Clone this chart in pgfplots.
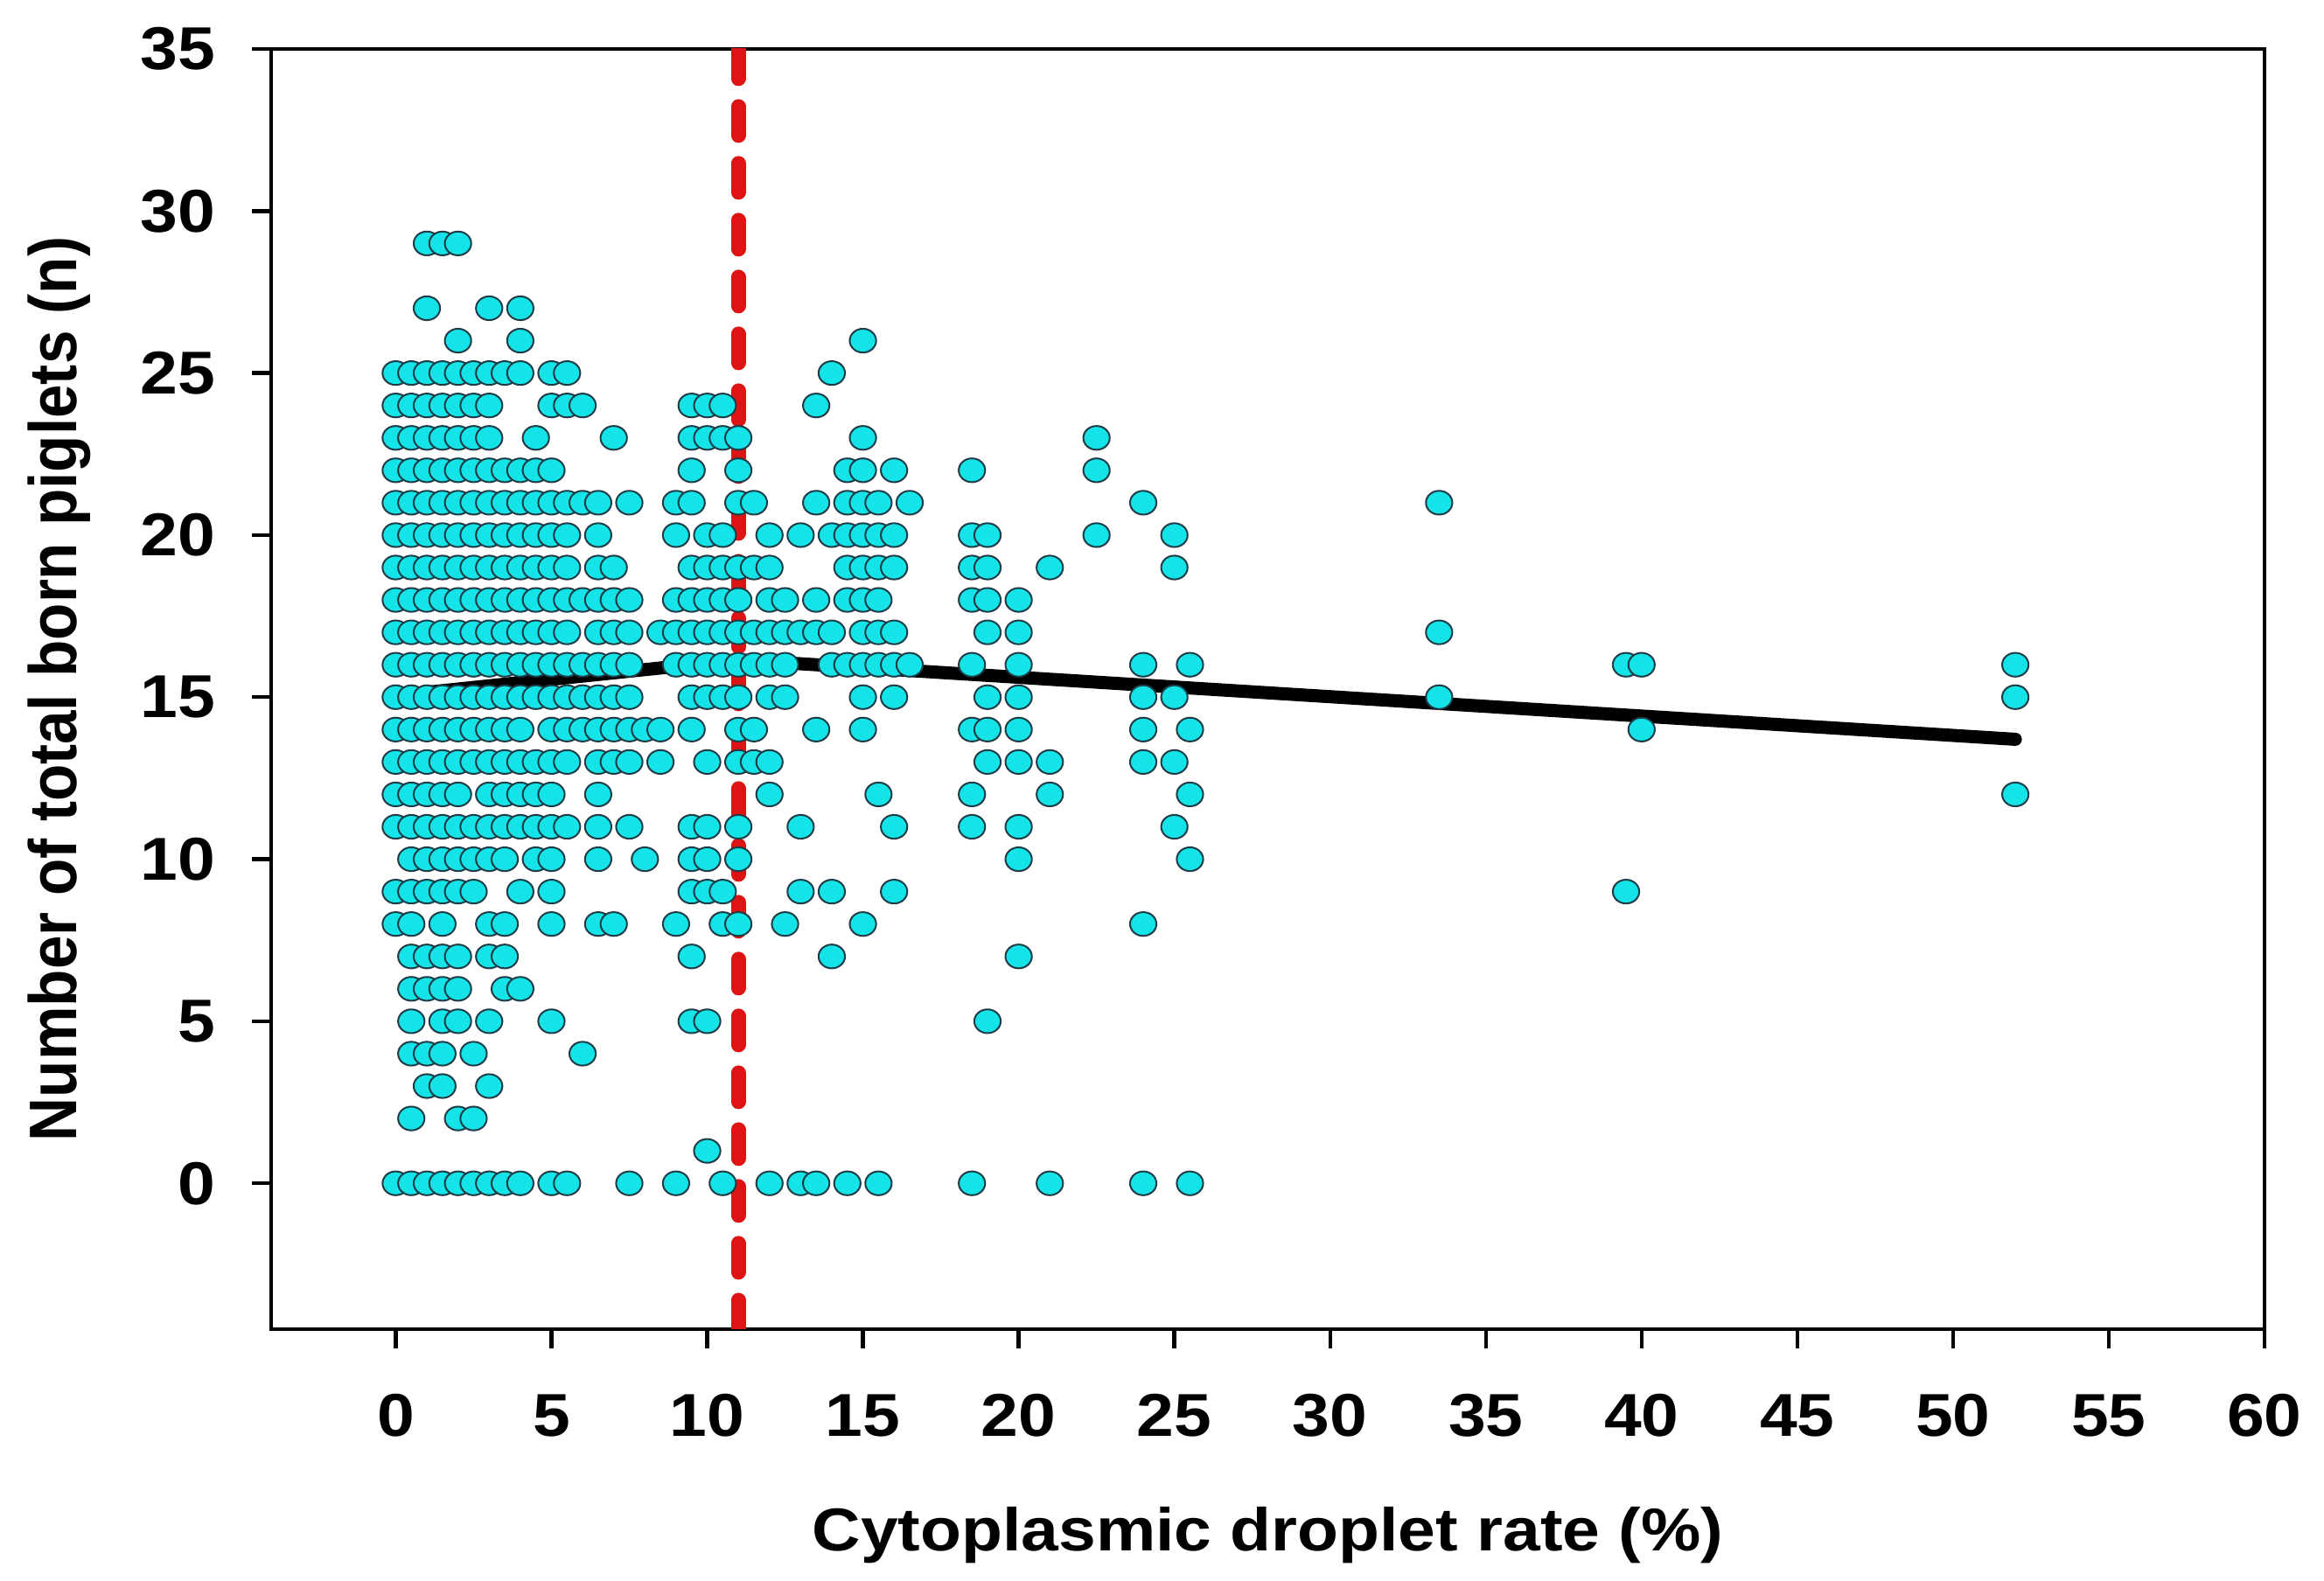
\documentclass[border=0pt]{standalone}
\usepackage{fontspec}
\setmainfont{Liberation Sans}
\usepackage{graphicx}
\usepackage{pgfplots}
\pgfplotsset{compat=1.18}

\definecolor{dotfill}{RGB}{20,228,232}
\definecolor{dotedge}{RGB}{30,60,70}
\definecolor{cutred}{RGB}{222,20,20}

\newcommand{\lab}{\fontsize{17.3}{20}\selectfont\bfseries}

\begin{document}
\begin{tikzpicture}
\useasboundingbox (-77.5pt,-72pt) rectangle (586.75pt,380pt);
\begin{axis}[
  at={(0,0)}, anchor=south west,
  scale only axis,
  width=569.75pt, height=366pt,
  xmin=-4, xmax=60,
  ymin=-4.5, ymax=35,
  xtick={0,5,...,60},
  ytick={0,5,...,35},
  xtick pos=bottom, ytick pos=left,
  tick align=outside,
  major tick length=5.5pt,
  axis line style={line width=1.1pt},
  tick style={line width=1.1pt, black},
  xticklabel={\scalebox{1.11}[1]{\pgfmathprintnumber[assume math mode=true]{\tick}}},
  yticklabel={\scalebox{1.11}[1]{\pgfmathprintnumber[assume math mode=true]{\tick}}},
  tick label style={font=\lab, inner sep=0pt},
  xticklabel shift=12.9pt,
  yticklabel shift=10.25pt,
  xlabel={\scalebox{1.11}[1]{Cytoplasmic droplet rate (\%)}},
  ylabel={\scalebox{1}[1.11]{Number of total born piglets (n)}},
  xlabel style={font=\lab, at={([yshift=-63.5pt]axis description cs:0.5,0)}, anchor=base, inner sep=0pt},
  ylabel style={font=\lab, at={([xshift=-55.6pt]axis description cs:0,0.5)}, anchor=base, inner sep=0pt},
]

% litters: x = droplet rate, y = piglets
\addplot[only marks, mark=*, mark size=3.4pt,
  mark options={xscale=1.11, fill=dotfill, draw=dotedge, line width=0.5pt}]
coordinates {
% 29, 27, 26
(1,29)(1.5,29)(2,29)
(1,27)(3,27)(4,27)
(2,26)(4,26)(15,26)
% 25
(0,25)(0.5,25)(1,25)(1.5,25)(2,25)(2.5,25)(3,25)(3.5,25)(4,25)(5,25)(5.5,25)(14,25)
% 24
(0,24)(0.5,24)(1,24)(1.5,24)(2,24)(2.5,24)(3,24)(5,24)(5.5,24)(6,24)(9.5,24)(10,24)(10.5,24)(13.5,24)
% 23
(0,23)(0.5,23)(1,23)(1.5,23)(2,23)(2.5,23)(3,23)(4.5,23)(7,23)(9.5,23)(10,23)(10.5,23)(11,23)(15,23)(22.5,23)
% 22
(0,22)(0.5,22)(1,22)(1.5,22)(2,22)(2.5,22)(3,22)(3.5,22)(4,22)(4.5,22)(5,22)
(9.5,22)(11,22)(14.5,22)(15,22)(16,22)(18.5,22)(22.5,22)
% 21
(0,21)(0.5,21)(1,21)(1.5,21)(2,21)(2.5,21)(3,21)(3.5,21)(4,21)(4.5,21)(5,21)(5.5,21)(6,21)(6.5,21)(7.5,21)
(9,21)(9.5,21)(11,21)(11.5,21)(13.5,21)(14.5,21)(15,21)(15.5,21)(16.5,21)(24,21)(33.5,21)
% 20
(0,20)(0.5,20)(1,20)(1.5,20)(2,20)(2.5,20)(3,20)(3.5,20)(4,20)(4.5,20)(5,20)(5.5,20)(6.5,20)
(9,20)(10,20)(10.5,20)(12,20)(13,20)(14,20)(14.5,20)(15,20)(15.5,20)(16,20)(18.5,20)(19,20)(22.5,20)(25,20)
% 19
(0,19)(0.5,19)(1,19)(1.5,19)(2,19)(2.5,19)(3,19)(3.5,19)(4,19)(4.5,19)(5,19)(5.5,19)(6.5,19)(7,19)
(9.5,19)(10,19)(10.5,19)(11,19)(11.5,19)(12,19)(14.5,19)(15,19)(15.5,19)(16,19)(18.5,19)(19,19)(21,19)(25,19)
% 18
(0,18)(0.5,18)(1,18)(1.5,18)(2,18)(2.5,18)(3,18)(3.5,18)(4,18)(4.5,18)(5,18)(5.5,18)(6,18)(6.5,18)(7,18)(7.5,18)
(9,18)(9.5,18)(10,18)(10.5,18)(11,18)(12,18)(12.5,18)(13.5,18)(14.5,18)(15,18)(15.5,18)(18.5,18)(19,18)(20,18)
% 17
(0,17)(0.5,17)(1,17)(1.5,17)(2,17)(2.5,17)(3,17)(3.5,17)(4,17)(4.5,17)(5,17)(5.5,17)(6.5,17)(7,17)(7.5,17)
(8.5,17)(9,17)(9.5,17)(10,17)(10.5,17)(11,17)(11.5,17)(12,17)(12.5,17)(13,17)(13.5,17)(14,17)
(15,17)(15.5,17)(16,17)(19,17)(20,17)(33.5,17)
% 16
(0,16)(0.5,16)(1,16)(1.5,16)(2,16)(2.5,16)(3,16)(3.5,16)(4,16)(4.5,16)(5,16)(5.5,16)(6,16)(6.5,16)(7,16)(7.5,16)
(9,16)(9.5,16)(10,16)(10.5,16)(11,16)(11.5,16)(12,16)(12.5,16)(14,16)(14.5,16)(15,16)(15.5,16)(16,16)(16.5,16)
(18.5,16)(20,16)(24,16)(25.5,16)(39.5,16)(40,16)(52,16)
% 15
(0,15)(0.5,15)(1,15)(1.5,15)(2,15)(2.5,15)(3,15)(3.5,15)(4,15)(4.5,15)(5,15)(5.5,15)(6,15)(6.5,15)(7,15)(7.5,15)
(9.5,15)(10,15)(10.5,15)(11,15)(12,15)(12.5,15)(15,15)(16,15)(19,15)(20,15)(24,15)(25,15)(33.5,15)(52,15)
% 14
(0,14)(0.5,14)(1,14)(1.5,14)(2,14)(2.5,14)(3,14)(3.5,14)(4,14)(5,14)(5.5,14)(6,14)(6.5,14)(7,14)(7.5,14)(8,14)(8.5,14)
(9.5,14)(11,14)(11.5,14)(13.5,14)(15,14)(18.5,14)(19,14)(20,14)(24,14)(25.5,14)(40,14)
% 13
(0,13)(0.5,13)(1,13)(1.5,13)(2,13)(2.5,13)(3,13)(3.5,13)(4,13)(4.5,13)(5,13)(5.5,13)(6.5,13)(7,13)(7.5,13)(8.5,13)
(10,13)(11,13)(11.5,13)(12,13)(19,13)(20,13)(21,13)(24,13)(25,13)
% 12
(0,12)(0.5,12)(1,12)(1.5,12)(2,12)(3,12)(3.5,12)(4,12)(4.5,12)(5,12)(6.5,12)
(12,12)(15.5,12)(18.5,12)(21,12)(25.5,12)(52,12)
% 11
(0,11)(0.5,11)(1,11)(1.5,11)(2,11)(2.5,11)(3,11)(3.5,11)(4,11)(4.5,11)(5,11)(5.5,11)(6.5,11)(7.5,11)
(9.5,11)(10,11)(11,11)(13,11)(16,11)(18.5,11)(20,11)(25,11)
% 10
(0.5,10)(1,10)(1.5,10)(2,10)(2.5,10)(3,10)(3.5,10)(4.5,10)(5,10)(6.5,10)(8,10)
(9.5,10)(10,10)(11,10)(20,10)(25.5,10)
% 9
(0,9)(0.5,9)(1,9)(1.5,9)(2,9)(2.5,9)(4,9)(5,9)(9.5,9)(10,9)(10.5,9)(13,9)(14,9)(16,9)(39.5,9)
% 8
(0,8)(0.5,8)(1.5,8)(3,8)(3.5,8)(5,8)(6.5,8)(7,8)(9,8)(10.5,8)(11,8)(12.5,8)(15,8)(24,8)
% 7 to 1
(0.5,7)(1,7)(1.5,7)(2,7)(3,7)(3.5,7)(9.5,7)(14,7)(20,7)
(0.5,6)(1,6)(1.5,6)(2,6)(3.5,6)(4,6)
(0.5,5)(1.5,5)(2,5)(3,5)(5,5)(9.5,5)(10,5)(19,5)
(0.5,4)(1,4)(1.5,4)(2.5,4)(6,4)
(1,3)(1.5,3)(3,3)
(0.5,2)(2,2)(2.5,2)
(10,1)
% 0
(0,0)(0.5,0)(1,0)(1.5,0)(2,0)(2.5,0)(3,0)(3.5,0)(4,0)(5,0)(5.5,0)(7.5,0)(9,0)(10.5,0)
(12,0)(13,0)(13.5,0)(14.5,0)(15.5,0)(18.5,0)(21,0)(24,0)(25.5,0)
};

% threshold
\addplot[cutred, line width=4.2pt, line cap=round, dash pattern=on 8.3pt off 7.95pt]
coordinates {(11,-4.5)(11,35.5)};

% broken-line fit
\addplot[black, line width=3.75pt, line cap=round, line join=round]
coordinates {(0,15.05)(11,16.15)(52,13.7)};

\end{axis}
\end{tikzpicture}
\end{document}
